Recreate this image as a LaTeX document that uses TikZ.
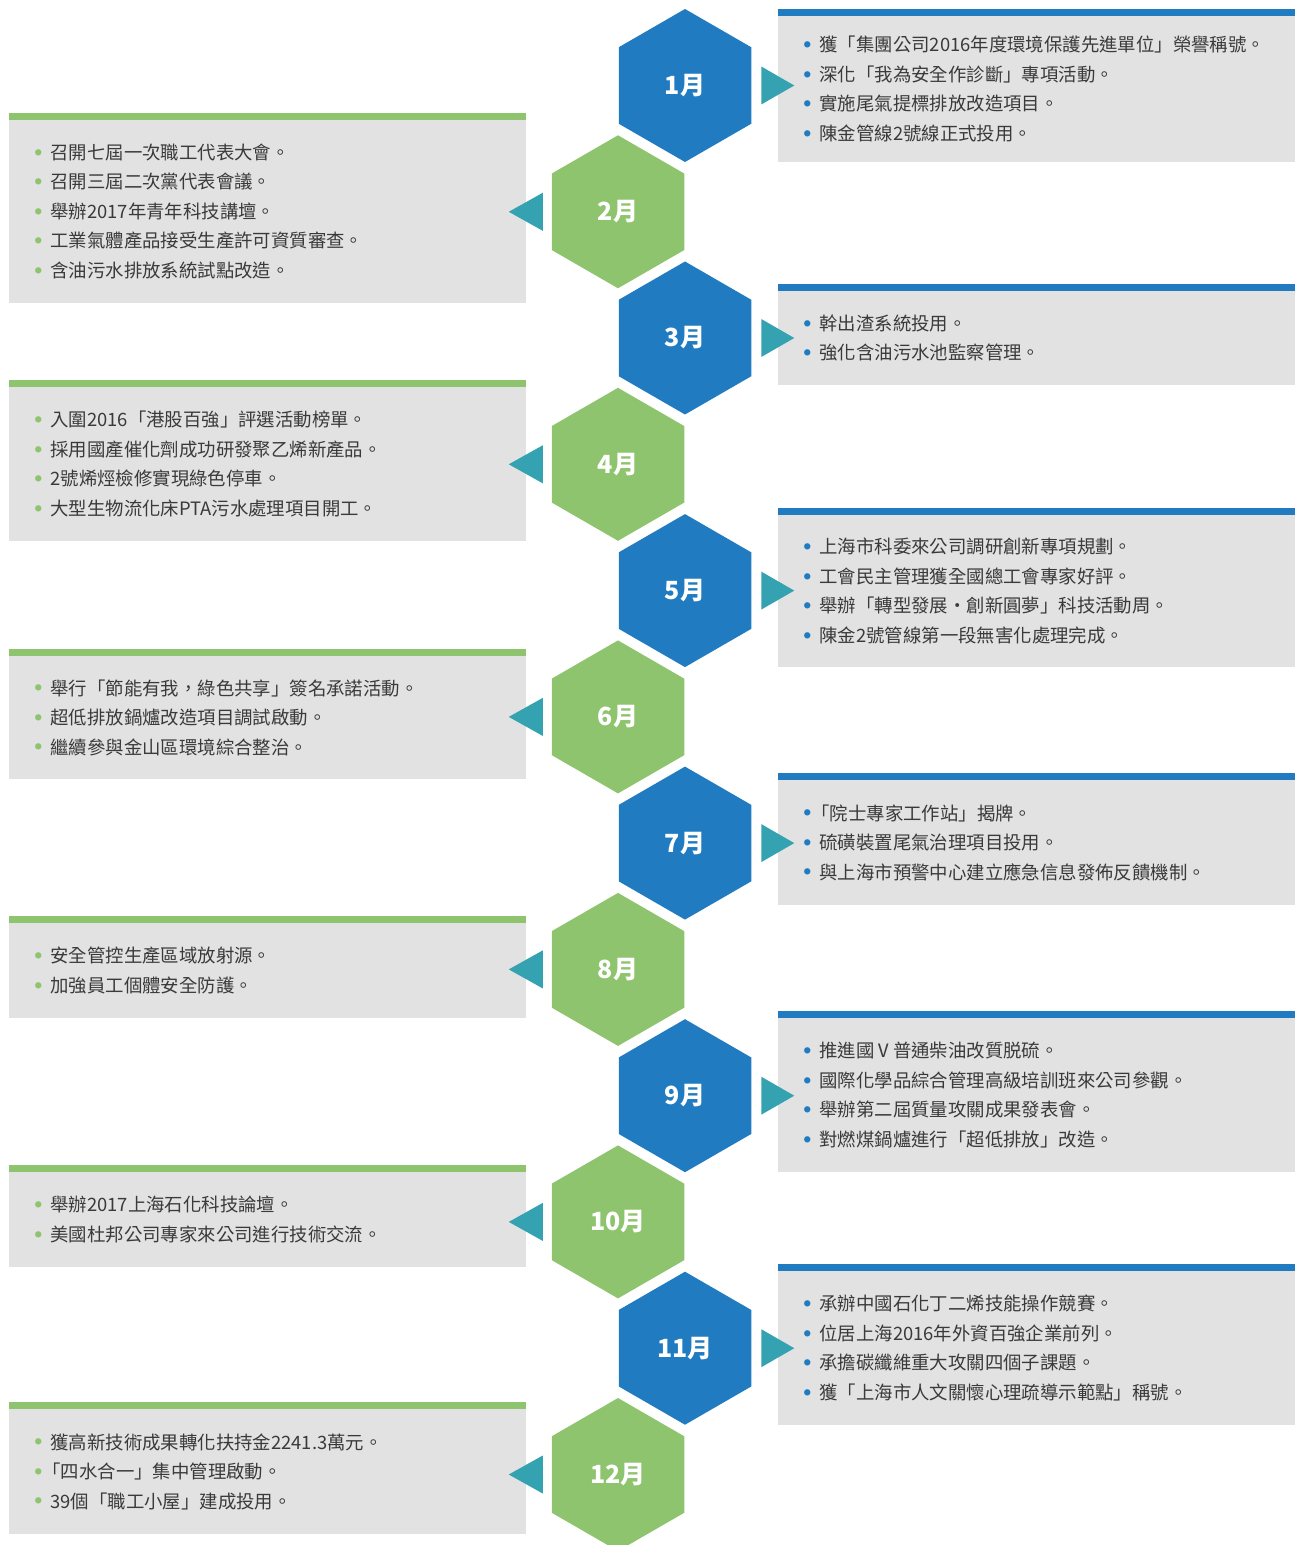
\documentclass[tikz,border=0pt]{standalone}
\usepackage{fontspec}
\setmainfont{Noto Sans CJK TC}
\usetikzlibrary{shapes.geometric,positioning}

\definecolor{monthblue}{RGB}{33,123,192}
\definecolor{monthgreen}{RGB}{143,196,110}
\definecolor{pointerteal}{RGB}{53,162,178}
\definecolor{boxgrey}{RGB}{226,226,226}
\definecolor{itemtext}{RGB}{58,58,58}

\newcommand{\bluedot}{\makebox[5pt][c]{\raisebox{2.1pt}{\textcolor{monthblue}{\scalebox{0.38}{●}}}}\hspace{3.5pt}}
\newcommand{\greendot}{\makebox[5pt][c]{\raisebox{2.1pt}{\textcolor{monthgreen}{\scalebox{0.38}{●}}}}\hspace{3.5pt}}

\tikzset{
  month/.style={regular polygon, regular polygon sides=6, shape border rotate=30,
    minimum size=76.5pt, inner sep=0pt, outer sep=0pt, text=white,
    font=\bfseries\fontsize{12.5pt}{12.5pt}\selectfont},
  infobox/.style={fill=boxgrey, minimum width=258.5pt, inner sep=0pt, outer sep=0pt, anchor=west},
  items/.style={align=left, text width=236pt, inner sep=0pt, text=itemtext,
    font=\fontsize{9.2pt}{14.75pt}\selectfont},
  pointer/.style={fill=pointerteal}
}

\begin{document}
\begin{tikzpicture}[x=0.5pt, y=-0.5pt]
    \useasboundingbox (0,0) rectangle (1295,1545);

    % grey boxes
    \node[infobox, minimum height=73pt] (b1) at (778, 89) {};
    \node[infobox, minimum height=91.5pt] (b2) at (9, 211.5) {};
    \node[infobox, minimum height=47pt] (b3) at (778, 338) {};
    \node[infobox, minimum height=77pt] (b4) at (9, 464) {};
    \node[infobox, minimum height=76pt] (b5) at (778, 591) {};
    \node[infobox, minimum height=61.5pt] (b6) at (9, 717.5) {};
    \node[infobox, minimum height=62.5pt] (b7) at (778, 842.5) {};
    \node[infobox, minimum height=47.5pt] (b8) at (9, 970.5) {};
    \node[infobox, minimum height=77pt] (b9) at (778, 1095) {};
    \node[infobox, minimum height=47.5pt] (b10) at (9, 1219.5) {};
    \node[infobox, minimum height=77pt] (b11) at (778, 1348) {};
    \node[infobox, minimum height=62.5pt] (b12) at (9, 1471.5) {};

    \fill[monthblue] (b1.north west) rectangle ([yshift=3.5pt]b1.north east);
    \fill[monthgreen] (b2.north west) rectangle ([yshift=3.5pt]b2.north east);
    \fill[monthblue] (b3.north west) rectangle ([yshift=3.5pt]b3.north east);
    \fill[monthgreen] (b4.north west) rectangle ([yshift=3.5pt]b4.north east);
    \fill[monthblue] (b5.north west) rectangle ([yshift=3.5pt]b5.north east);
    \fill[monthgreen] (b6.north west) rectangle ([yshift=3.5pt]b6.north east);
    \fill[monthblue] (b7.north west) rectangle ([yshift=3.5pt]b7.north east);
    \fill[monthgreen] (b8.north west) rectangle ([yshift=3.5pt]b8.north east);
    \fill[monthblue] (b9.north west) rectangle ([yshift=3.5pt]b9.north east);
    \fill[monthgreen] (b10.north west) rectangle ([yshift=3.5pt]b10.north east);
    \fill[monthblue] (b11.north west) rectangle ([yshift=3.5pt]b11.north east);
    \fill[monthgreen] (b12.north west) rectangle ([yshift=3.5pt]b12.north east);

    % items
    \node[items, right=12pt of b1.west] (t1) {\bluedot 獲「集團公司2016年度環境保護先進單位」榮譽稱號。\\ \bluedot 深化「我為安全作診斷」專項活動。\\ \bluedot 實施尾氣提標排放改造項目。\\ \bluedot 陳金管線2號線正式投用。};
    \node[items, right=12pt of b2.west] (t2) {\greendot 召開七屆一次職工代表大會。\\ \greendot 召開三屆二次黨代表會議。\\ \greendot 舉辦2017年青年科技講壇。\\ \greendot 工業氣體產品接受生產許可資質審查。\\ \greendot 含油污水排放系統試點改造。};
    \node[items, right=12pt of b3.west] (t3) {\bluedot 幹出渣系統投用。\\ \bluedot 強化含油污水池監察管理。};
    \node[items, right=12pt of b4.west] (t4) {\greendot 入圍2016「港股百強」評選活動榜單。\\ \greendot 採用國產催化劑成功研發聚乙烯新產品。\\ \greendot 2號烯烴檢修實現綠色停車。\\ \greendot 大型生物流化床PTA污水處理項目開工。};
    \node[items, right=12pt of b5.west] (t5) {\bluedot 上海市科委來公司調研創新專項規劃。\\ \bluedot 工會民主管理獲全國總工會專家好評。\\ \bluedot 舉辦「轉型發展·創新圓夢」科技活動周。\\ \bluedot 陳金2號管線第一段無害化處理完成。};
    \node[items, right=12pt of b6.west] (t6) {\greendot 舉行「節能有我，綠色共享」簽名承諾活動。\\ \greendot 超低排放鍋爐改造項目調試啟動。\\ \greendot 繼續參與金山區環境綜合整治。};
    \node[items, right=12pt of b7.west] (t7) {\bluedot\hspace{-4pt}「院士專家工作站」揭牌。\\ \bluedot 硫磺裝置尾氣治理項目投用。\\ \bluedot 與上海市預警中心建立應急信息發佈反饋機制。};
    \node[items, right=12pt of b8.west] (t8) {\greendot 安全管控生產區域放射源。\\ \greendot 加強員工個體安全防護。};
    \node[items, right=12pt of b9.west] (t9) {\bluedot 推進國Ⅴ普通柴油改質脱硫。\\ \bluedot 國際化學品綜合管理高級培訓班來公司參觀。\\ \bluedot 舉辦第二屆質量攻關成果發表會。\\ \bluedot 對燃煤鍋爐進行「超低排放」改造。};
    \node[items, right=12pt of b10.west] (t10) {\greendot 舉辦2017上海石化科技論壇。\\ \greendot 美國杜邦公司專家來公司進行技術交流。};
    \node[items, right=12pt of b11.west] (t11) {\bluedot 承辦中國石化丁二烯技能操作競賽。\\ \bluedot 位居上海2016年外資百強企業前列。\\ \bluedot 承擔碳纖維重大攻關四個子課題。\\ \bluedot 獲「上海市人文關懷心理疏導示範點」稱號。};
    \node[items, right=12pt of b12.west] (t12) {\greendot 獲高新技術成果轉化扶持金2241.3萬元。\\ \greendot\hspace{-4pt}「四水合一」集中管理啟動。\\ \greendot 39個「職工小屋」建成投用。};

    % months
    \node[month, fill=monthblue] (m1) at (685, 85.5) {1月};
    \node[month, fill=monthgreen] (m2) at (618, 211.8) {2月};
    \node[month, fill=monthblue] (m3) at (685, 338.0) {3月};
    \node[month, fill=monthgreen] (m4) at (618, 464.3) {4月};
    \node[month, fill=monthblue] (m5) at (685, 590.6) {5月};
    \node[month, fill=monthgreen] (m6) at (618, 716.9) {6月};
    \node[month, fill=monthblue] (m7) at (685, 843.1) {7月};
    \node[month, fill=monthgreen] (m8) at (618, 969.4) {8月};
    \node[month, fill=monthblue] (m9) at (685, 1095.7) {9月};
    \node[month, fill=monthgreen] (m10) at (618, 1221.9) {10月};
    \node[month, fill=monthblue] (m11) at (685, 1348.2) {11月};
    \node[month, fill=monthgreen] (m12) at (618, 1474.5) {12月};

    % pointers
    \fill[pointer] ([xshift=5pt]m1.east) +(0,-19) -- +(33,0) -- +(0,19) -- cycle;
    \fill[pointer] ([xshift=-4.5pt]m2.west) +(0,-19) -- +(-34,0) -- +(0,19) -- cycle;
    \fill[pointer] ([xshift=5pt]m3.east) +(0,-19) -- +(33,0) -- +(0,19) -- cycle;
    \fill[pointer] ([xshift=-4.5pt]m4.west) +(0,-19) -- +(-34,0) -- +(0,19) -- cycle;
    \fill[pointer] ([xshift=5pt]m5.east) +(0,-19) -- +(33,0) -- +(0,19) -- cycle;
    \fill[pointer] ([xshift=-4.5pt]m6.west) +(0,-19) -- +(-34,0) -- +(0,19) -- cycle;
    \fill[pointer] ([xshift=5pt]m7.east) +(0,-19) -- +(33,0) -- +(0,19) -- cycle;
    \fill[pointer] ([xshift=-4.5pt]m8.west) +(0,-19) -- +(-34,0) -- +(0,19) -- cycle;
    \fill[pointer] ([xshift=5pt]m9.east) +(0,-19) -- +(33,0) -- +(0,19) -- cycle;
    \fill[pointer] ([xshift=-4.5pt]m10.west) +(0,-19) -- +(-34,0) -- +(0,19) -- cycle;
    \fill[pointer] ([xshift=5pt]m11.east) +(0,-19) -- +(33,0) -- +(0,19) -- cycle;
    \fill[pointer] ([xshift=-4.5pt]m12.west) +(0,-19) -- +(-34,0) -- +(0,19) -- cycle;
\end{tikzpicture}
\end{document}
